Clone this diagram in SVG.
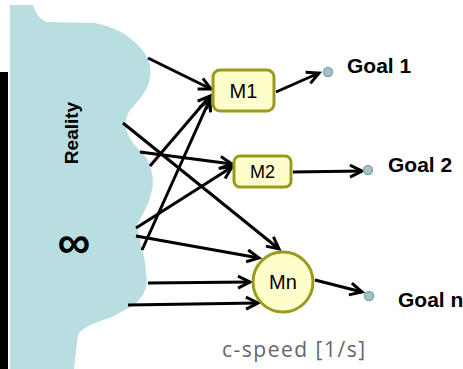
<svg xmlns="http://www.w3.org/2000/svg" width="463" height="369" viewBox="0 0 463 369">
<style>
.conn{stroke:#000;stroke-width:3;fill:none;marker-end:url(#ah)}
.box{fill:#FFFFCC;stroke:#9A9A1C;stroke-width:3}
.lbl{font-family:"Liberation Sans",Arial,sans-serif;fill:#000;text-anchor:middle}
.goal{font-family:"Liberation Sans",Arial,sans-serif;font-weight:bold;font-size:21px;fill:#000}
.dot{fill:#A3C2C6;stroke:#86A6AB;stroke-width:1.5}
</style>
<defs>
<marker id="ah" markerUnits="userSpaceOnUse" markerWidth="20" markerHeight="20" refX="0" refY="0" viewBox="-14 -10 20 20" orient="auto">
<path d="M-12,-6 L0,0 L-12,6" fill="none" stroke="#000" stroke-width="3" stroke-linejoin="miter"/>
</marker>
</defs>
<rect x="0" y="72" width="8" height="297" fill="#000"/>
<g id="reality">
<path d="M10,5 L33,5 Q38,20 47,22 L95,23 Q118,28 130,38 Q146,50 150,65 Q152,78 146,90 Q138,102 130,110 Q123,120 127,132 Q132,145 143,153 Q153,165 153,185 Q151,198 145,210 L137,225 L140,240 L145,262 L147,282 Q145,298 132,306 L110,318 Q82,326 78,335 L74,369 L10,369 Z" fill="#B9DEE2"/>
<text class="lbl" x="0" y="0" font-size="19" font-weight="bold" transform="translate(78,133) rotate(-90)">Reality</text>
<text class="lbl" x="74" y="258" font-size="46" font-weight="bold" font-family="DejaVu Sans,sans-serif">∞</text>
</g>
<g id="connectors">
<line class="conn" x1="148" y1="58" x2="211" y2="89"/>
<line class="conn" x1="150" y1="166" x2="210" y2="96"/>
<line class="conn" x1="142" y1="250" x2="210" y2="99"/>
<line class="conn" x1="123" y1="123" x2="279" y2="249"/>
<line class="conn" x1="140" y1="152" x2="232" y2="164"/>
<line class="conn" x1="136" y1="228" x2="232" y2="167"/>
<line class="conn" x1="136" y1="236" x2="259" y2="258"/>
<line class="conn" x1="148" y1="283" x2="250" y2="282"/>
<line class="conn" x1="128" y1="305" x2="258" y2="303"/>
<line class="conn" x1="276" y1="92" x2="319" y2="73"/>
<line class="conn" x1="293" y1="172" x2="362" y2="171"/>
<line class="conn" x1="315" y1="280" x2="362" y2="292"/>
</g>
<g id="m1">
<rect class="box" x="213" y="70" width="61" height="41" rx="7"/>
<text class="lbl" x="243.5" y="98" font-size="20">M1</text>
</g>
<g id="m2">
<rect class="box" x="234" y="156" width="57" height="31" rx="6"/>
<text class="lbl" x="262.5" y="178" font-size="18">M2</text>
</g>
<g id="mn">
<circle class="box" cx="283" cy="282" r="30"/>
<text class="lbl" x="283" y="289" font-size="20">Mn</text>
</g>
<g id="goal1">
<circle class="dot" cx="328" cy="72" r="4.5"/>
<text class="goal" x="347" y="73">Goal 1</text>
</g>
<g id="goal2">
<circle class="dot" cx="368" cy="170" r="4.5"/>
<text class="goal" x="388" y="172">Goal 2</text>
</g>
<g id="goaln">
<circle class="dot" cx="369" cy="296" r="4.5"/>
<text class="goal" x="398" y="307">Goal n</text>
</g>
<text x="222" y="357" font-family="Open Sans,sans-serif" font-size="21" letter-spacing="1.5" fill="#666">c-speed [1/s]</text>
</svg>
